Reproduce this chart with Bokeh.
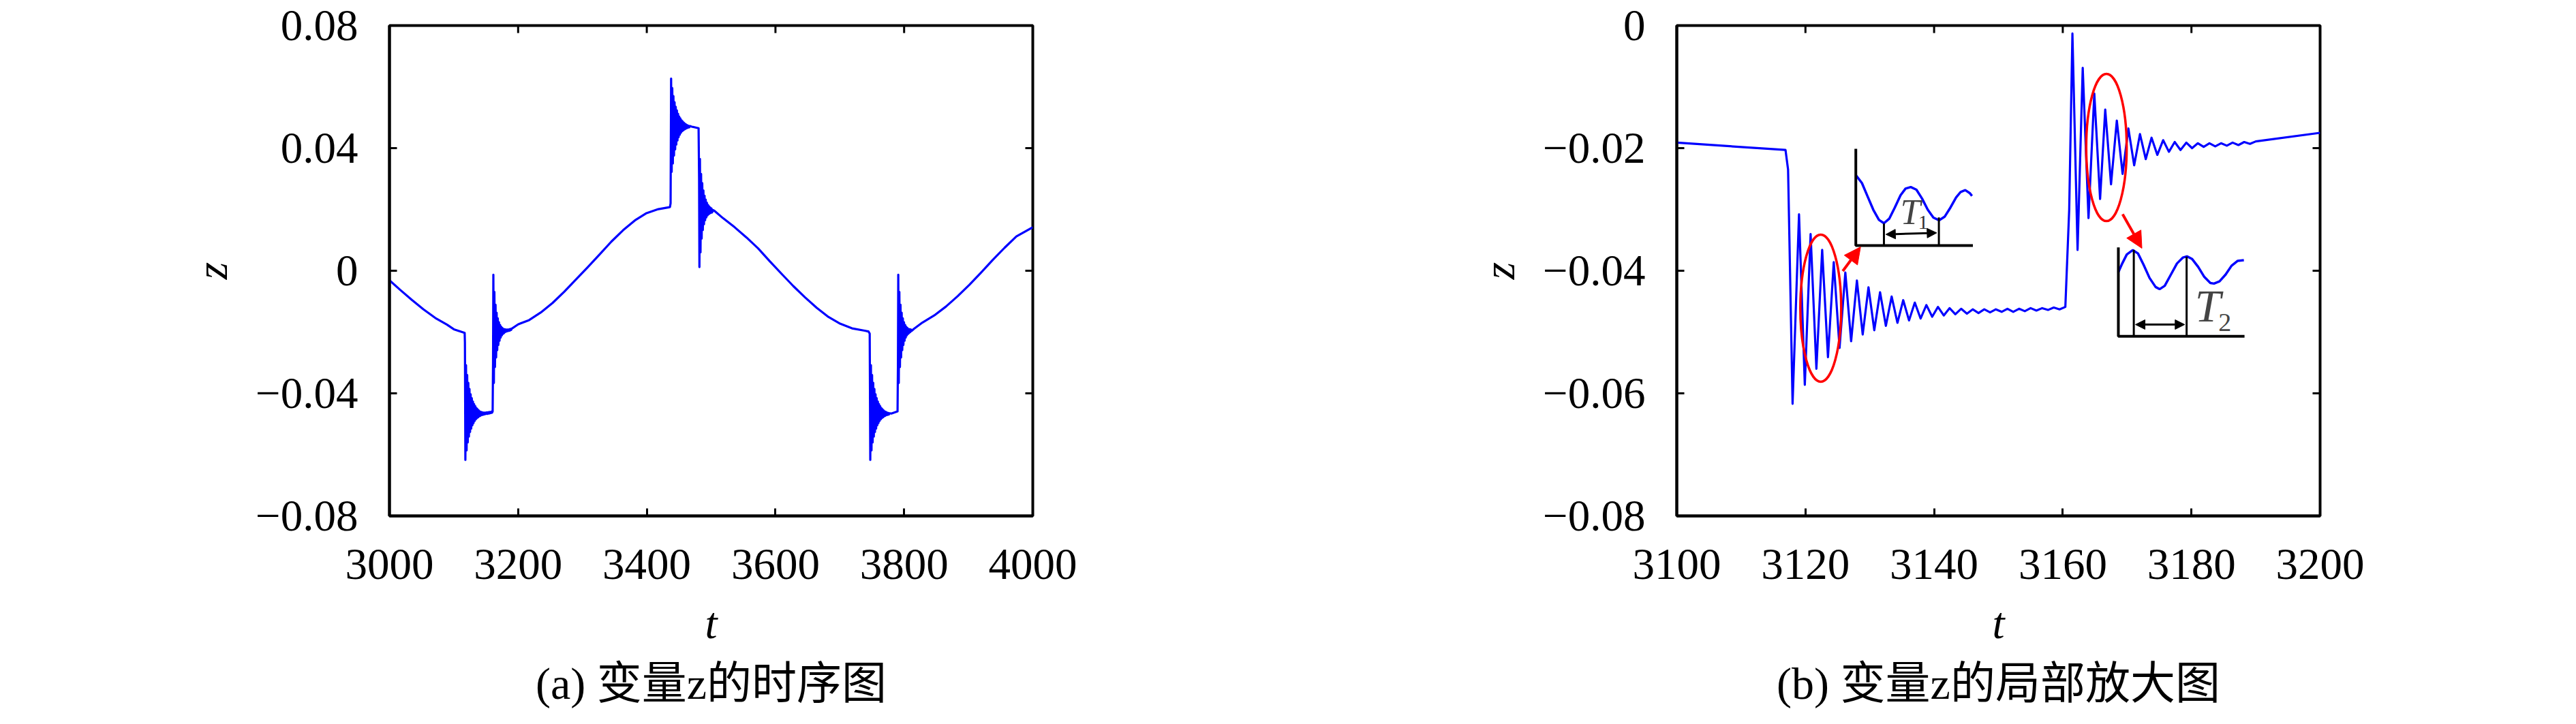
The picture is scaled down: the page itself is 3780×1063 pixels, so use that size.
from bokeh.plotting import figure
from bokeh.models import Range1d, FixedTicker, Label, Arrow, NormalHead, Title
from bokeh.layouts import row
from bokeh.embed import file_html
from bokeh.resources import INLINE

# ---------------- data ----------------
# panel (b): zoom of z over 3100..3200
t_zoom = [3100.0, 3116.9, 3117.3, 3118.0, 3119.0, 3119.9, 3120.8, 3121.7, 3122.6, 3123.5,
          3124.4, 3125.3, 3126.2, 3127.1, 3128.0, 3128.9, 3129.8, 3130.7, 3131.6, 3132.5,
          3133.4, 3134.3, 3135.2, 3136.1, 3137.0, 3137.9, 3138.8, 3139.7, 3140.6, 3141.5,
          3142.4, 3143.3, 3144.2, 3145.1, 3146.0, 3146.9, 3147.8, 3148.7, 3149.6, 3150.5,
          3151.4, 3152.3, 3153.2, 3154.1, 3155.0, 3155.9, 3156.8, 3157.7, 3158.6, 3159.5,
          3160.4, 3161.0, 3161.5, 3162.3, 3163.1, 3164.0, 3164.9, 3165.8, 3166.6, 3167.5,
          3168.4, 3169.3, 3170.2, 3171.1, 3172.0, 3172.9, 3173.8, 3174.7, 3175.6, 3176.5,
          3177.4, 3178.3, 3179.2, 3180.1, 3181.0, 3181.9, 3182.8, 3183.7, 3184.6, 3185.5,
          3186.4, 3187.3, 3188.2, 3189.1, 3190.0, 3200.0]
z_zoom = [-0.0191, -0.0203, -0.0235, -0.0617, -0.0308, -0.0586, -0.0340, -0.0560, -0.0366, -0.0541,
          -0.0386, -0.0526, -0.0403, -0.0515, -0.0416, -0.0504, -0.0427, -0.0497, -0.0435, -0.0490,
          -0.0442, -0.0485, -0.0448, -0.0481, -0.0452, -0.0478, -0.0456, -0.0475, -0.0459, -0.0473,
          -0.0461, -0.0471, -0.0462, -0.0470, -0.0463, -0.0469, -0.0463, -0.0468, -0.0463, -0.0467,
          -0.0462, -0.0467, -0.0462, -0.0466, -0.0461, -0.0465, -0.0461, -0.0464, -0.0460, -0.0463,
          -0.0459, -0.0300, -0.0013, -0.0366, -0.0069, -0.0314, -0.0111, -0.0283, -0.0137, -0.0259,
          -0.0155, -0.0242, -0.0168, -0.0228, -0.0177, -0.0218, -0.0183, -0.0211, -0.0187, -0.0206,
          -0.0190, -0.0203, -0.0191, -0.0200, -0.0192, -0.0198, -0.0192, -0.0197, -0.0192, -0.0196,
          -0.0191, -0.0195, -0.0190, -0.0193, -0.0189, -0.0175]

# panel (a): full time series 3000..4000 (3100..3200 is the zoomed series above)
t_seg1 = [3000.0, 3016.4, 3034.7, 3052.9, 3071.2, 3089.4]
z_seg1 = [-0.0031, -0.0062, -0.0095, -0.0126, -0.0154, -0.0176]

t_seg2 = [3217.2, 3235.4, 3253.6, 3271.9, 3290.1, 3308.4, 3326.6, 3344.9, 3363.1, 3381.4,
          3399.6, 3417.9, 3434.3]
z_seg2 = [-0.0161, -0.0136, -0.0105, -0.0068, -0.0028, 0.0012, 0.0053, 0.0095, 0.0132, 0.0164,
          0.0188, 0.0201, 0.0207]

t_burst2 = [3436.0, 3437.0, 3437.8, 3438.7, 3439.6, 3440.5, 3441.4, 3442.3, 3443.2, 3444.1,
            3445.0, 3445.9, 3446.8, 3447.7, 3448.6, 3449.5, 3450.4, 3451.3, 3452.2, 3453.1,
            3454.0, 3454.9, 3455.8, 3456.7, 3457.6, 3458.5, 3459.4, 3460.3, 3461.2, 3462.1,
            3463.0, 3464.0, 3465.0, 3466.0, 3467.0, 3470.0, 3480.5, 3481.3, 3481.8, 3482.6,
            3483.5, 3484.4, 3485.3, 3486.2, 3487.1, 3488.0, 3488.9, 3489.8, 3490.7, 3491.6,
            3492.5, 3493.4, 3494.3, 3495.2, 3496.1, 3497.0, 3497.9, 3498.8, 3499.7, 3500.6,
            3501.5, 3503.0, 3506.0]
z_burst2 = [0.0208, 0.0220, 0.0627, 0.0323, 0.0596, 0.0350, 0.0570, 0.0376, 0.0550, 0.0396,
            0.0535, 0.0412, 0.0523, 0.0425, 0.0512, 0.0436, 0.0503, 0.0444, 0.0497, 0.0450,
            0.0491, 0.0455, 0.0487, 0.0458, 0.0483, 0.0461, 0.0480, 0.0463, 0.0477, 0.0465,
            0.0475, 0.0467, 0.0473, 0.0468, 0.0472, 0.0470, 0.0465, 0.0300, 0.0012, 0.0365,
            0.0060, 0.0316, 0.0105, 0.0286, 0.0133, 0.0262, 0.0152, 0.0245, 0.0165, 0.0232,
            0.0174, 0.0222, 0.0180, 0.0215, 0.0184, 0.0210, 0.0187, 0.0206, 0.0189, 0.0203,
            0.0190, 0.0198, 0.0194]

t_seg3 = [3518.2, 3536.5, 3554.7, 3573.0, 3591.2, 3609.5, 3627.7, 3646.0, 3664.2, 3682.5,
          3700.7, 3719.0, 3737.2]
z_seg3 = [0.0172, 0.0142, 0.0109, 0.0073, 0.0031, -0.0010, -0.0050, -0.0087, -0.0121, -0.0151,
          -0.0173, -0.0188, -0.0195]

t_burst3 = [3744.5, 3746.5, 3747.4, 3748.4, 3749.3, 3750.2, 3751.1, 3752.0, 3752.9, 3753.8,
            3754.7, 3755.6, 3756.5, 3757.4, 3758.3, 3759.2, 3760.1, 3761.0, 3761.9, 3762.8,
            3763.7, 3764.6, 3765.5, 3766.4, 3767.3, 3768.2, 3769.1, 3770.0, 3770.9, 3771.8,
            3772.7, 3773.6, 3774.5, 3775.4, 3776.3, 3777.2, 3780.0, 3789.8, 3790.4, 3790.9,
            3791.7, 3792.6, 3793.5, 3794.4, 3795.3, 3796.2, 3797.1, 3798.0, 3798.9, 3799.8,
            3800.7, 3801.6, 3802.5, 3803.4, 3804.3, 3805.2, 3806.1, 3807.0, 3807.9, 3808.8,
            3809.7, 3810.6, 3812.0, 3815.0]
z_burst3 = [-0.0198, -0.0205, -0.0617, -0.0308, -0.0586, -0.0340, -0.0560, -0.0366, -0.0541, -0.0386,
            -0.0526, -0.0403, -0.0515, -0.0416, -0.0504, -0.0427, -0.0497, -0.0435, -0.0490, -0.0442,
            -0.0485, -0.0448, -0.0481, -0.0452, -0.0478, -0.0456, -0.0475, -0.0459, -0.0473, -0.0461,
            -0.0471, -0.0463, -0.0470, -0.0464, -0.0469, -0.0465, -0.0466, -0.0459, -0.0300, -0.0013,
            -0.0366, -0.0069, -0.0314, -0.0111, -0.0283, -0.0137, -0.0259, -0.0155, -0.0242, -0.0168,
            -0.0228, -0.0177, -0.0218, -0.0183, -0.0211, -0.0187, -0.0206, -0.0190, -0.0203, -0.0191,
            -0.0200, -0.0192, -0.0196, -0.0190]

t_seg4 = [3828.5, 3846.7, 3865.0, 3883.2, 3901.5, 3919.7, 3938.0, 3956.2, 3974.5, 4000.0]
z_seg4 = [-0.0169, -0.0146, -0.0117, -0.0083, -0.0046, -0.0006, 0.0036, 0.0075, 0.0112, 0.0142]

# ticks
xticks_a = [3000, 3200, 3400, 3600, 3800, 4000]
xlabels_a = ["3000", "3200", "3400", "3600", "3800", "4000"]
yticks_a = [-0.08, -0.04, 0.0, 0.04, 0.08]
ylabels_a = ["\u22120.08", "\u22120.04", "0", "0.04", "0.08"]
xticks_b = [3100, 3120, 3140, 3160, 3180, 3200]
xlabels_b = ["3100", "3120", "3140", "3160", "3180", "3200"]
yticks_b = [-0.08, -0.06, -0.04, -0.02, 0.0]
ylabels_b = ["\u22120.08", "\u22120.06", "\u22120.04", "\u22120.02", "0"]

caption_a = "(a) 变量z的时序图"
caption_b = "(b) 变量z的局部放大图"

# annotation geometry for panel (b) (data coordinates)
ellipse_t = [3122.38, 3166.79]
ellipse_z = [-0.0461, -0.0199]
ellipse_w = [6.35, 6.29]
ellipse_h = [0.0240, 0.0240]

inset1_t = [3127.83, 3128.78, 3129.66, 3130.55, 3131.43, 3132.20, 3133.02, 3133.89, 3134.78, 3135.56,
            3136.37, 3137.25, 3138.13, 3139.02, 3139.89, 3140.77, 3141.66, 3142.54, 3143.42, 3144.13,
            3144.84, 3145.53, 3145.89]
inset1_z = [-0.02441, -0.02569, -0.02788, -0.03006, -0.03171, -0.03225, -0.03152, -0.02969, -0.02769, -0.02660,
            -0.02634, -0.02678, -0.02824, -0.03006, -0.03133, -0.03177, -0.03116, -0.02969, -0.02805, -0.02714,
            -0.02685, -0.02733, -0.02780]
inset1_axis_t = [3127.83, 3127.83, 3146.03]
inset1_axis_z = [-0.0201, -0.0359, -0.0359]
inset1_mark_t = [3132.2, 3140.74]
inset1_mark_z0 = [-0.0323, -0.0313]
inset1_mark_z1 = [-0.0359, -0.0359]

inset2_t = [3168.62, 3169.24, 3169.95, 3170.89, 3171.69, 3172.55, 3173.49, 3174.43, 3175.05, 3175.85,
            3176.80, 3177.75, 3178.69, 3179.30, 3180.11, 3181.05, 3182.00, 3182.94, 3183.50, 3184.36,
            3185.30, 3186.24, 3187.20, 3188.15]
inset2_z = [-0.04028, -0.03882, -0.03735, -0.03663, -0.03718, -0.03900, -0.04118, -0.04265, -0.04301, -0.04246,
            -0.04064, -0.03882, -0.03784, -0.03765, -0.03809, -0.03937, -0.04101, -0.04199, -0.04210, -0.04173,
            -0.04064, -0.03918, -0.03838, -0.03827]
inset2_axis_t = [3168.64, 3168.64, 3188.25]
inset2_axis_z = [-0.0362, -0.0507, -0.0507]
inset2_mark_t = [3171.04, 3179.25]
inset2_mark_z0 = [-0.0366, -0.0377]
inset2_mark_z1 = [-0.0507, -0.0507]

SERIF = "Liberation Serif"
CAPFONT = "Liberation Serif, Noto Sans CJK SC"
FRAME_W, FRAME_H = 944, 720
TICK_PX = 11


def make_fig(xr, yr, xt, xl, yt, yl, left, right, cap):
    p = figure(frame_width=FRAME_W, frame_height=FRAME_H,
               x_range=Range1d(*xr), y_range=Range1d(*yr),
               output_backend="svg", toolbar_location=None,
               min_border_left=left, min_border_right=right,
               min_border_top=37, min_border_bottom=20)
    p.grid.visible = False
    p.outline_line_color = "black"
    p.outline_line_width = 4
    p.outline_line_alpha = 1.0
    p.background_fill_color = "white"
    p.border_fill_color = "white"
    xa = p.below[0]
    ya = p.left[0]
    xa.ticker = FixedTicker(ticks=xt)
    xa.major_label_overrides = dict(zip(xt, xl))
    ya.ticker = FixedTicker(ticks=yt)
    ya.major_label_overrides = dict(zip(yt, yl))
    for ax in (xa, ya):
        ax.axis_line_width = 4
        ax.axis_line_color = "black"
        ax.major_tick_in = TICK_PX
        ax.major_tick_out = 0
        ax.minor_tick_out = 0
        ax.minor_tick_in = 0
        ax.major_tick_line_width = 3
        ax.minor_tick_line_color = None
        ax.major_label_text_font = SERIF
        ax.major_label_text_font_size = "65px"
        ax.major_label_text_color = "black"
        ax.axis_label_text_font = SERIF
        ax.axis_label_text_font_style = "italic"
        ax.axis_label_text_font_size = "65px"
        ax.axis_label_text_color = "black"
    ya.major_label_standoff = 46
    xa.major_label_standoff = 49
    xa.axis_label = "t"
    ya.axis_label = "z"
    xa.axis_label_standoff = 26
    ya.axis_label_standoff = 25
    # mirrored inward ticks on top and right edges
    dx = (xr[1] - xr[0]) / FRAME_W * TICK_PX
    dy = (yr[1] - yr[0]) / FRAME_H * TICK_PX
    p.segment(x0=xt, y0=[yr[1]] * len(xt), x1=xt, y1=[yr[1] - dy] * len(xt),
              line_color="black", line_width=3)
    p.segment(x0=[xr[1]] * len(yt), y0=yt, x1=[xr[1] - dx] * len(yt), y1=yt,
              line_color="black", line_width=3)
    p.add_layout(Title(text=cap, align="center", text_font=CAPFONT, text_font_size="66px",
                       text_font_style="normal", text_color="black", standoff=22), "below")
    return p


# ---------------- panel (a) ----------------
pa = make_fig((3000, 4000), (-0.08, 0.08), xticks_a, xlabels_a, yticks_a, ylabels_a, 571, 100, caption_a)
t_full = t_seg1 + t_zoom + t_seg2 + t_burst2 + t_seg3 + t_burst3 + t_seg4
z_full = z_seg1 + z_zoom + z_seg2 + z_burst2 + z_seg3 + z_burst3 + z_seg4
pa.line(t_full, z_full, line_color="#0000ff", line_width=3.2, line_join="round")

# ---------------- panel (b) ----------------
pb = make_fig((3100, 3200), (-0.08, 0.0), xticks_b, xlabels_b, yticks_b, ylabels_b, 845, 100, caption_b)
pb.line(t_zoom, z_zoom, line_color="#0000ff", line_width=3.2, line_join="round")

pb.ellipse(x=ellipse_t, y=ellipse_z, width=ellipse_w, height=ellipse_h,
           fill_color=None, line_color="#ff0000", line_width=3.5)

# inset T1
pb.line(inset1_t, inset1_z, line_color="#0000ff", line_width=3.5)
pb.line(inset1_axis_t, inset1_axis_z, line_color="black", line_width=4)
pb.segment(x0=inset1_mark_t, y0=inset1_mark_z0, x1=inset1_mark_t, y1=inset1_mark_z1,
           line_color="black", line_width=3)
pb.add_layout(Arrow(x_start=3132.5, y_start=-0.03407, x_end=3140.4, y_end=-0.03382,
                    line_color="black", line_width=3,
                    start=NormalHead(size=14, fill_color="black", line_color="black"),
                    end=NormalHead(size=14, fill_color="black", line_color="black")))
pb.add_layout(Label(x=3136.3, y=-0.0304, text="T", text_font=SERIF, text_font_style="italic",
                    text_font_size="53px", text_align="center", text_baseline="middle"))
pb.add_layout(Label(x=3138.3, y=-0.0321, text="1", text_font=SERIF,
                    text_font_size="30px", text_align="center", text_baseline="middle",
                    text_color="#333333"))

# inset T2
pb.line(inset2_t, inset2_z, line_color="#0000ff", line_width=3.5)
pb.line(inset2_axis_t, inset2_axis_z, line_color="black", line_width=4)
pb.segment(x0=inset2_mark_t, y0=inset2_mark_z0, x1=inset2_mark_t, y1=inset2_mark_z1,
           line_color="black", line_width=3)
pb.add_layout(Arrow(x_start=3171.3, y_start=-0.04878, x_end=3178.95, y_end=-0.04878,
                    line_color="black", line_width=3,
                    start=NormalHead(size=14, fill_color="black", line_color="black"),
                    end=NormalHead(size=14, fill_color="black", line_color="black")))
pb.add_layout(Label(x=3182.54, y=-0.04575, text="T", text_font=SERIF, text_font_style="italic",
                    text_font_size="68px", text_align="center", text_baseline="middle"))
pb.add_layout(Label(x=3185.19, y=-0.04848, text="2", text_font=SERIF,
                    text_font_size="38px", text_align="center", text_baseline="middle"))

# red arrows
pb.add_layout(Arrow(x_start=3125.8, y_start=-0.04006, x_end=3128.57, y_end=-0.03612,
                    line_color="#ff0000", line_width=4,
                    end=NormalHead(size=24, fill_color="#ff0000", line_color="#ff0000")))
pb.add_layout(Arrow(x_start=3169.3, y_start=-0.03078, x_end=3172.3, y_end=-0.03634,
                    line_color="#ff0000", line_width=4,
                    end=NormalHead(size=24, fill_color="#ff0000", line_color="#ff0000")))

layout = row(pa, pb)
open("out.html", "w").write(file_html(layout, INLINE))
